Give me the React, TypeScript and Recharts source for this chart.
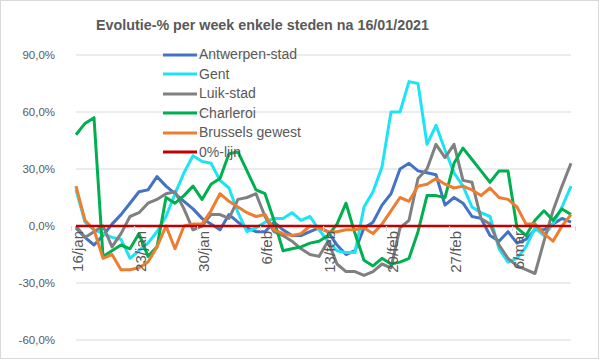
import React from 'react';
import { LineChart, Line, XAxis, YAxis, CartesianGrid, Legend } from 'recharts';

const dates = [
  '16/jan', '17/jan', '18/jan', '19/jan', '20/jan', '21/jan', '22/jan', '23/jan', '24/jan', '25/jan',
  '26/jan', '27/jan', '28/jan', '29/jan', '30/jan', '31/jan', '1/feb', '2/feb', '3/feb', '4/feb',
  '5/feb', '6/feb', '7/feb', '8/feb', '9/feb', '10/feb', '11/feb', '12/feb', '13/feb', '14/feb',
  '15/feb', '16/feb', '17/feb', '18/feb', '19/feb', '20/feb', '21/feb', '22/feb', '23/feb', '24/feb',
  '25/feb', '26/feb', '27/feb', '28/feb', '1/mar', '2/mar', '3/mar', '4/mar', '5/mar', '6/mar',
  '7/mar', '8/mar', '9/mar', '10/mar', '11/mar', '12/mar',
];

const antwerpen = [
  -1, -6, -10, -5, 1, 6, 12, 18, 19, 26,
  21, 17, 13, 9, 4, 1, -2, 6, 2, -1,
  -3, -3, 2, -2, -5, -5, -3, -1, -3, -10,
  -15, -13, -1, 2, 11, 17, 30, 33, 29, 28,
  27, 11, 15, 12, 5, 4, -5, -8, -3, -9,
  -7, -2, -2, 1, 4, 2,
];

const gent = [
  19, 2, -2, -4, -6, -7, -17, -13, -9, -3,
  5, 17, 28, 37, 34, 33, 24, 20, 7, -3,
  -1, 2, 4, 4, 7, 3, 5, -2, -8, -13,
  -14, -14, 10, 18, 31, 60, 60, 76, 75, 43,
  53, 40, 28, 21, 10, 7, 5, -12, -19, -17,
  -11, -1, -5, 1, 10, 21,
];

const luik = [
  0, -6, -3, 0, -11, -4, 5, 7, 12, 14,
  17, 18, 9, -2, 0, 6, 6, 4, 14, 15,
  17, 5, -3, -5, -8, -12, -15, -16, -8, -20,
  -24, -24, -26, -24, -20, -22, -1, 3, 25, 30,
  43, 36, 43, 24, 23, 4, 1, -10, -17, -21,
  -23, -25, -8, 8, 21, 33,
];

const charleroi = [
  48, 54, 57, -16, -13, -10, -12, -4, -16, -11,
  15, 12, 16, 21, 14, 22, 25, 38, 39, 29,
  19, 17, 3, -13, -12, -11, -9, -8, -5, 1,
  12, -4, -18, -21, -17, -20, -19, -17, -3, 16,
  16, 15, 33, 41, 35, 29, 23, 29, 29, -1,
  -5, 3, 8, 3, 9, 6,
];

const brussels = [
  21, 3, -2, -17, -15, -23, -23, -22, -19, -11,
  0, -12, 0, 1, 1, 8, 17, 13, 10, 7,
  5, 6, -2, -4, -5, -4, 0, -1, -3, -3,
  -2, -2, -1, -4, 1, 8, 15, 13, 21, 22,
  25, 22, 20, 21, 19, 16, 20, 15, 14, 10,
  1, 1, -4, -8, 0, 6,
];

const nulLijn = [
  0, 0, 0, 0, 0, 0, 0, 0, 0, 0,
  0, 0, 0, 0, 0, 0, 0, 0, 0, 0,
  0, 0, 0, 0, 0, 0, 0, 0, 0, 0,
  0, 0, 0, 0, 0, 0, 0, 0, 0, 0,
  0, 0, 0, 0, 0, 0, 0, 0, 0, 0,
  0, 0, 0, 0, 0, 0,
];

const yTicks = [-60, -30, 0, 30, 60, 90];
const Y_MIN = -60;
const Y_MAX = 90;

const series = [
  { key: 'antwerpen', name: 'Antwerpen-stad', color: '#4472C4', values: antwerpen, width: 3 },
  { key: 'gent', name: 'Gent', color: '#1EE3F5', values: gent, width: 3 },
  { key: 'luik', name: 'Luik-stad', color: '#808080', values: luik, width: 3 },
  { key: 'charleroi', name: 'Charleroi', color: '#00B050', values: charleroi, width: 3 },
  { key: 'brussels', name: 'Brussels gewest', color: '#ED7D31', values: brussels, width: 3 },
  { key: 'nul', name: '0%-lijn', color: '#C00000', values: nulLijn, width: 2.5 },
];

const data = dates.map((d, i) => {
  const row: Record<string, string | number> = { date: d };
  series.forEach((s) => {
    row[s.key] = s.values[i];
  });
  return row;
});

const FONT = '"Liberation Sans", Arial, sans-serif';
const TEXT_COLOR = '#595959';
const GRID_COLOR = '#D9D9D9';

const CHART_W = 599;
const CHART_H = 359;
const MARGIN = { top: 55, right: 28, bottom: 18, left: 0 };
const Y_AXIS_W = 76;
const X_AXIS_H = 1;
const PLOT_H = CHART_H - MARGIN.top - MARGIN.bottom - X_AXIS_H;
const PLOT_W = CHART_W - MARGIN.left - MARGIN.right - Y_AXIS_W;
const ZERO_Y = MARGIN.top + (PLOT_H * (Y_MAX - 0)) / (Y_MAX - Y_MIN);
const BAND = PLOT_W / dates.length;

const fmtPct = (v: number) => `${v.toFixed(1).replace('.', ',')}%`;

const XTick = (props: any) => {
  const { x, index, payload } = props;
  const els: React.ReactNode[] = [];
  if (index % 7 === 0) {
    const left = x - BAND / 2;
    els.push(
      <line key="t" x1={left} x2={left} y1={ZERO_Y} y2={ZERO_Y + 5} stroke={GRID_COLOR} strokeWidth={1} />
    );
    els.push(
      <text
        key="l"
        transform={`translate(${x + 1},${ZERO_Y + 5}) rotate(-90)`}
        textAnchor="end"
        dominantBaseline="central"
        fontFamily={FONT}
        fontSize={15}
        fill={TEXT_COLOR}
      >
        {payload.value}
      </text>
    );
  }
  if (index === dates.length - 1) {
    const right = x + BAND / 2;
    els.push(
      <line key="r" x1={right} x2={right} y1={ZERO_Y} y2={ZERO_Y + 5} stroke={GRID_COLOR} strokeWidth={1} />
    );
  }
  return <g>{els}</g>;
};

const LegendContent = (props: any) => {
  const payload = (props.payload || []).slice();
  const order = series.map((s) => s.name);
  payload.sort((a: any, b: any) => order.indexOf(a.value) - order.indexOf(b.value));
  return (
    <div style={{ fontFamily: FONT, fontSize: 14, color: TEXT_COLOR }}>
      {payload.map((p: any) => (
        <div key={p.value} style={{ display: 'flex', alignItems: 'center', height: 19.5, whiteSpace: 'nowrap' }}>
          <svg width={36} height={6} style={{ display: 'block' }}>
            <line x1={0} x2={34} y1={3} y2={3} stroke={p.color} strokeWidth={3} />
          </svg>
          <span style={{ lineHeight: '19.5px' }}>{p.value}</span>
        </div>
      ))}
    </div>
  );
};

export default function App() {
  return (
    <div style={{ position: 'absolute', left: 0, top: 0, width: CHART_W, height: CHART_H, background: '#fff' }}>
      <div
        style={{
          position: 'absolute',
          left: 0,
          top: 17,
          width: 525,
          textAlign: 'center',
          fontFamily: FONT,
          fontWeight: 'bold',
          fontSize: 14.3,
          color: TEXT_COLOR,
          whiteSpace: 'nowrap',
        }}
      >
        Evolutie-% per week enkele steden na 16/01/2021
      </div>
      <LineChart width={CHART_W} height={CHART_H} data={data} margin={MARGIN}>
        <CartesianGrid vertical={false} stroke={GRID_COLOR} strokeWidth={1} />
        <XAxis
          dataKey="date"
          interval={0}
          height={X_AXIS_H}
          axisLine={false}
          tickLine={false}
          tick={<XTick />}
        />
        <YAxis
          type="number"
          domain={[Y_MIN, Y_MAX]}
          ticks={yTicks}
          width={Y_AXIS_W}
          axisLine={false}
          tickLine={false}
          tickSize={0}
          tickMargin={21}
          tickFormatter={fmtPct}
          tick={{ fontFamily: FONT, fontSize: 11.5, fill: TEXT_COLOR }}
          allowDataOverflow
        />
        <Legend
          layout="vertical"
          align="center"
          verticalAlign="middle"
          wrapperStyle={{ left: 163, top: 45, width: 200, height: 120 }}
          content={<LegendContent />}
        />
        {series.map((s) => (
          <Line
            key={s.key}
            type="linear"
            dataKey={s.key}
            name={s.name}
            stroke={s.color}
            strokeWidth={s.width}
            dot={false}
            activeDot={false}
            isAnimationActive={false}
            strokeLinejoin="round"
          />
        ))}
      </LineChart>
      <div
        style={{
          position: 'absolute',
          left: 0,
          top: 0,
          width: CHART_W,
          height: CHART_H,
          border: `1px solid ${GRID_COLOR}`,
          boxSizing: 'border-box',
          pointerEvents: 'none',
        }}
      />
    </div>
  );
}
